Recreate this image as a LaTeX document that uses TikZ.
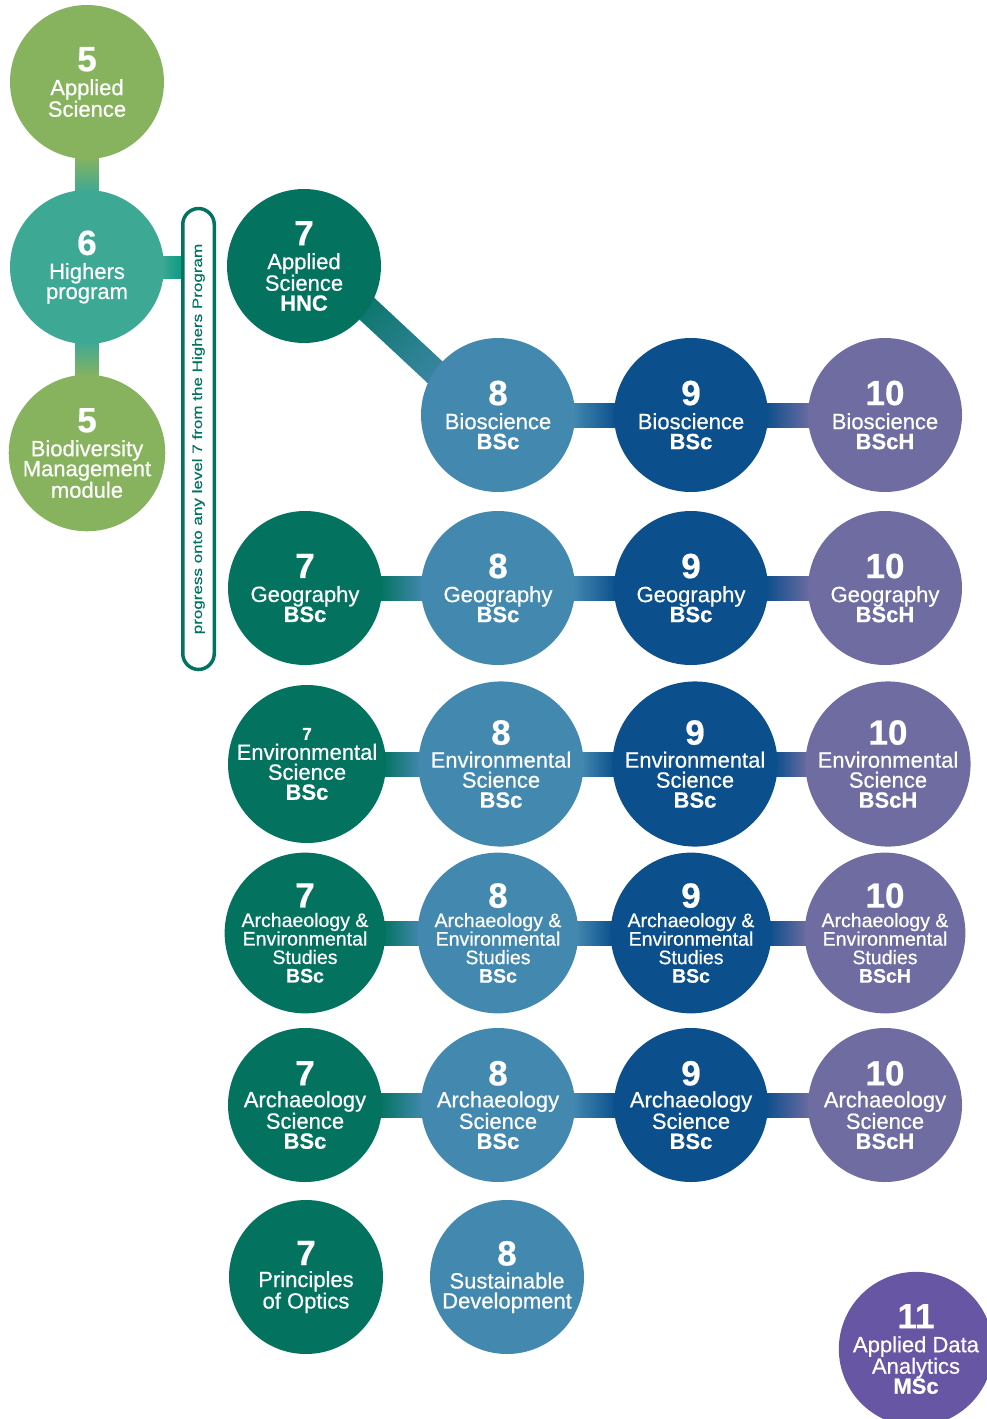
\documentclass[tikz,border=0pt]{standalone}
\usepackage{fontspec}
\setmainfont{Liberation Sans}[FakeBold=0.6]
\newfontfamily\sidefont[FakeStretch=1.26,FakeBold=0.4]{Liberation Sans}
\usetikzlibrary{backgrounds,calc}
\definecolor{cgreen}{HTML}{88B35E}
\definecolor{cteal}{HTML}{3DA994}
\definecolor{clink}{HTML}{0E9A84}
\definecolor{cdteal}{HTML}{03735F}
\definecolor{cdiag}{HTML}{027F86}
\definecolor{cblue}{HTML}{4389AF}
\definecolor{cdblue}{HTML}{0B4F8C}
\definecolor{cpurple}{HTML}{6E6CA1}
\definecolor{cviolet}{HTML}{6656A3}
\newcommand\lvlab{\fontsize{22}{20}\selectfont}
\newcommand\lvsmlab{\fontsize{19.5}{18.5}\selectfont}
\newcommand\lvnum{\fontsize{35}{35}\selectfont\bfseries}
\newcommand\lvsnum{\fontsize{17}{17}\selectfont\bfseries}
\newcommand\hlink[4]{\shade[left color=#3, right color=#4] ([xshift=-3pt,yshift=12pt]#1.east) rectangle ([xshift=3pt,yshift=-12pt]#2.west);}
\newcommand\vlink[4]{\shade[top color=#3, bottom color=#4] ([xshift=-11.5pt,yshift=3pt]#1.south) rectangle ([xshift=11.5pt,yshift=-3pt]#2.north);}
\tikzset{
  lvl/.style={circle, minimum size=154pt, inner sep=0pt, text=white, align=center, font=\lvlab},
  lvlbig/.style={lvl, minimum size=158pt},
  lvlsm/.style={lvl, font=\lvsmlab},
  progbox/.style={draw=cdteal, line width=3.5pt, rounded corners=16pt, minimum width=461pt, minimum height=31.5pt, inner sep=0pt, rotate=90, text=cdteal, font=\sidefont\fontsize{13.5}{14}\selectfont}
}
\begin{document}
\begin{tikzpicture}[x=1pt,y=-1pt]
\useasboundingbox (0,0) rectangle (987,1419);
% left column
\node[lvl, fill=cgreen] (as5) at (87,82) {{\lvnum 5}\\[4pt]Applied\\Science};
\node[lvl, fill=cteal] (hi6) at (87,267) {{\lvnum 6}\\[4pt]Highers\\program};
\node[lvl, fill=cgreen] (bd5) at (87,453) {{\lvnum 5}\\[4pt]Biodiversity\\Management\\module};
\node[progbox] (prog) at (198.5,439) {progress onto any level 7 from the Highers Program};
\coordinate (pl) at (hi6.east -| prog.north);
\node[lvl, fill=cdteal] (hnc) at (304,266) {{\lvnum 7}\\[4pt]Applied\\Science\\\textbf{HNC}};
% row 1
\node[lvl, fill=cblue] (b8) at (498,415) {{\lvnum 8}\\[4pt]Bioscience\\\textbf{BSc}};
\node[lvl, fill=cdblue] (b9) at (691,415) {{\lvnum 9}\\[4pt]Bioscience\\\textbf{BSc}};
\node[lvl, fill=cpurple] (b10) at (885,415) {{\lvnum 10}\\[4pt]Bioscience\\\textbf{BScH}};
% row 2
\node[lvl, fill=cdteal] (g7) at (305,588) {{\lvnum 7}\\[4pt]Geography\\\textbf{BSc}};
\node[lvl, fill=cblue] (g8) at (498,588) {{\lvnum 8}\\[4pt]Geography\\\textbf{BSc}};
\node[lvl, fill=cdblue] (g9) at (691,588) {{\lvnum 9}\\[4pt]Geography\\\textbf{BSc}};
\node[lvl, fill=cpurple] (g10) at (885,588) {{\lvnum 10}\\[4pt]Geography\\\textbf{BScH}};
% row 3
\node[lvlbig, fill=cdteal] (e7) at (307,764) {{\lvsnum 7}\\Environmental\\Science\\\textbf{BSc}};
\node[lvlbig, fill=cblue] (e8) at (501,764) {{\lvnum 8}\\[3pt]Environmental\\Science\\\textbf{BSc}};
\node[lvlbig, fill=cdblue] (e9) at (695,764) {{\lvnum 9}\\[3pt]Environmental\\Science\\\textbf{BSc}};
\node[lvlbig, fill=cpurple] (e10) at (888,764) {{\lvnum 10}\\[3pt]Environmental\\Science\\\textbf{BScH}};
% row 4
\node[lvlsm, fill=cdteal] (a7) at (305,933) {{\lvnum 7}\\[1pt]Archaeology \&\\Environmental\\Studies\\\textbf{BSc}};
\node[lvlsm, fill=cblue] (a8) at (498,933) {{\lvnum 8}\\[1pt]Archaeology \&\\Environmental\\Studies\\\textbf{BSc}};
\node[lvlsm, fill=cdblue] (a9) at (691,933) {{\lvnum 9}\\[1pt]Archaeology \&\\Environmental\\Studies\\\textbf{BSc}};
\node[lvlsm, fill=cpurple] (a10) at (885,933) {{\lvnum 10}\\[1pt]Archaeology \&\\Environmental\\Studies\\\textbf{BScH}};
% row 5
\node[lvl, fill=cdteal] (s7) at (305,1105) {{\lvnum 7}\\[2pt]Archaeology\\Science\\\textbf{BSc}};
\node[lvl, fill=cblue] (s8) at (498,1105) {{\lvnum 8}\\[2pt]Archaeology\\Science\\\textbf{BSc}};
\node[lvl, fill=cdblue] (s9) at (691,1105) {{\lvnum 9}\\[2pt]Archaeology\\Science\\\textbf{BSc}};
\node[lvl, fill=cpurple] (s10) at (885,1105) {{\lvnum 10}\\[2pt]Archaeology\\Science\\\textbf{BScH}};
% row 6
\node[lvl, fill=cdteal] (o7) at (306,1277) {{\lvnum 7}\\[2pt]Principles\\of Optics};
\node[lvl, fill=cblue] (d8) at (507,1277) {{\lvnum 8}\\[3pt]Sustainable\\Development};
\node[lvl, fill=cviolet] (m11) at (916,1349) {{\lvnum 11}\\[4pt]Applied Data\\Analytics\\\textbf{MSc}};
% connectors
\begin{scope}[on background layer]
  \vlink{as5}{hi6}{cgreen}{cteal}
  \vlink{hi6}{bd5}{cteal}{cgreen}
  \shade[left color=cteal, right color=clink] ([xshift=-3pt,yshift=11pt]hi6.east) rectangle ([yshift=-11pt]pl);
  \begin{scope}[transform canvas={shift={($(hnc.center)!0.5!(b8.center)$)}, rotate=-43}]
    \shade[left color=cdteal, middle color=cdiag, right color=cblue] (-75,-13) rectangle (75,13);
  \end{scope}
  \hlink{b8}{b9}{cblue}{cdblue}
  \hlink{b9}{b10}{cdblue}{cpurple}
  \hlink{g7}{g8}{cdteal}{cblue}
  \hlink{g8}{g9}{cblue}{cdblue}
  \hlink{g9}{g10}{cdblue}{cpurple}
  \hlink{e7}{e8}{cdteal}{cblue}
  \hlink{e8}{e9}{cblue}{cdblue}
  \hlink{e9}{e10}{cdblue}{cpurple}
  \hlink{a7}{a8}{cdteal}{cblue}
  \hlink{a8}{a9}{cblue}{cdblue}
  \hlink{a9}{a10}{cdblue}{cpurple}
  \hlink{s7}{s8}{cdteal}{cblue}
  \hlink{s8}{s9}{cblue}{cdblue}
  \hlink{s9}{s10}{cdblue}{cpurple}
\end{scope}
\end{tikzpicture}
\end{document}
